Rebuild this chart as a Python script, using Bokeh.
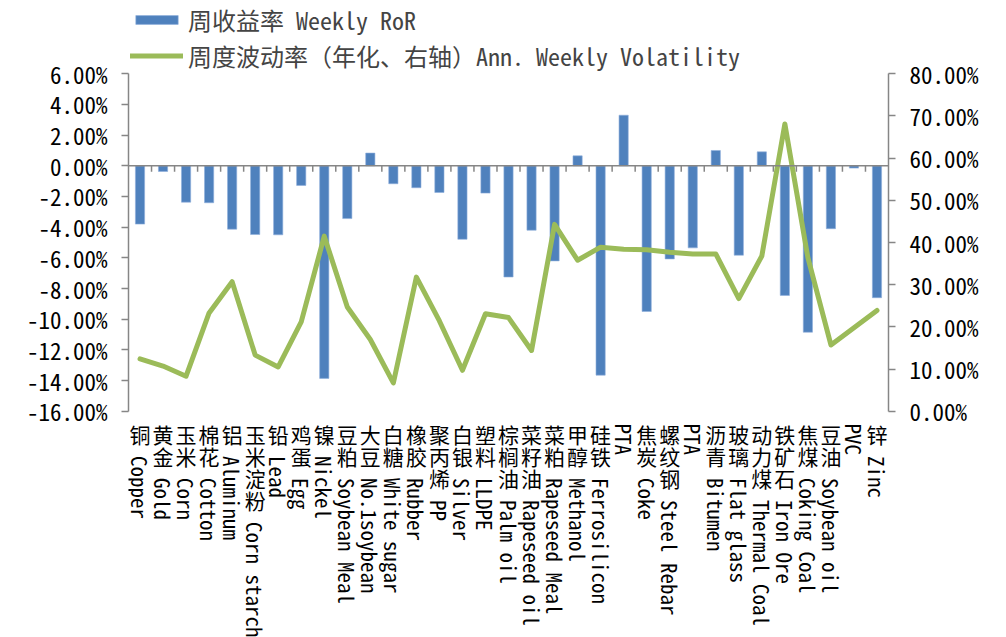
import math
from bokeh.plotting import figure
from bokeh.models import (Range1d, LinearAxis, FixedTicker, Span, ColumnDataSource,
                          Legend, LegendItem)
from bokeh.core.properties import value
from bokeh.embed import file_html
from bokeh.resources import INLINE

# ---------------- data ----------------
cn_names = ["铜", "黄金", "玉米", "棉花", "铝", "玉米淀粉", "铅", "鸡蛋", "镍", "豆粕", "大豆",
            "白糖", "橡胶", "聚丙烯", "白银", "塑料", "棕榈油", "菜籽油", "菜粕", "甲醇", "硅铁",
            "", "焦炭", "螺纹钢", "", "沥青", "玻璃", "动力煤", "铁矿石", "焦煤", "豆油", "", "锌"]
en_names = ["Copper", "Gold", "Corn", "Cotton", "Aluminum", "Corn starch", "Lead", "Egg",
            "Nickel", "Soybean Meal", "No.1soybean", "White sugar", "Rubber", "PP", "Silver",
            "LLDPE", "Palm oil", "Rapeseed oil", "Rapeseed Meal", "Methanol", "Ferrosilicon",
            "PTA", "Coke", "Steel Rebar", "PTA", "Bitumen", "Flat glass", "Thermal Coal",
            "Iron Ore", "Coking Coal", "Soybean oil", "PVC", "Zinc"]
weekly_ror = [-3.80, -0.37, -2.37, -2.41, -4.13, -4.48, -4.50, -1.28, -13.86, -3.44, 0.83,
              -1.17, -1.43, -1.74, -4.79, -1.78, -7.25, -4.20, -6.20, 0.65, -13.65, 3.30,
              -9.50, -6.07, -5.35, 1.00, -5.83, 0.91, -8.45, -10.85, -4.10, -0.15, -8.60]
ann_vol = [12.4, 10.7, 8.3, 23.3, 30.7, 13.3, 10.5, 21.2, 41.5, 24.7, 17.0, 6.7, 31.8, 21.4,
           9.7, 23.1, 22.2, 14.4, 44.3, 35.8, 38.9, 38.4, 38.3, 37.7, 37.3, 37.3, 26.7, 36.8,
           68.1, 36.4, 15.7, 19.8, 23.9]
left_ticks = [-16, -14, -12, -10, -8, -6, -4, -2, 0, 2, 4, 6]
right_ticks = [0, 10, 20, 30, 40, 50, 60, 70, 80]
legend_labels = ["周收益率 Weekly RoR", "周度波动率（年化、右轴）Ann. Weekly Volatility"]

# ---------------- layout constants ----------------
FONT = "Noto Sans Mono CJK SC, Noto Sans CJK SC"
FIG_H = 637
TOP_AX, BOT_AX = 73.3, 410.7       # figure px of top/bottom of axes
L_MIN, L_MAX = left_ticks[0], left_ticks[-1]
R_MIN, R_MAX = right_ticks[0], right_ticks[-1]
ppu_l = (BOT_AX - TOP_AX) / (L_MAX - L_MIN)
ppu_r = (BOT_AX - TOP_AX) / (R_MAX - R_MIN)
y_rng = Range1d(L_MIN - (FIG_H - BOT_AX) / ppu_l, L_MAX + TOP_AX / ppu_l)
r_rng = Range1d(R_MIN - (FIG_H - BOT_AX) / ppu_r, R_MAX + TOP_AX / ppu_r)

def fig_px_to_left(py):
    return L_MAX - (py - TOP_AX) / ppu_l

n = len(en_names)
xs = list(range(n))
GRAY = "#868686"

p = figure(frame_width=760, frame_height=FIG_H, min_border_left=128, min_border_right=110,
           min_border_top=0, min_border_bottom=0, x_range=Range1d(-0.5, n - 0.5),
           y_range=y_rng, output_backend="svg", toolbar_location=None,
           x_axis_location=None, outline_line_color=None)
p.extra_y_ranges = {"vol": r_rng}
p.grid.visible = False

# left axis
ya = p.yaxis[0]
ya.bounds = (L_MIN, L_MAX)
ya.ticker = FixedTicker(ticks=left_ticks)
ya.major_label_overrides = {t: f"{t:.2f}%" for t in left_ticks}
ra = LinearAxis(y_range_name="vol", bounds=(R_MIN, R_MAX),
                ticker=FixedTicker(ticks=right_ticks))
ra.major_label_overrides = {t: f"{t:.2f}%" for t in right_ticks}
p.add_layout(ra, "right")
for ax in (ya, ra):
    ax.axis_line_color = GRAY
    ax.axis_line_width = 1.5
    ax.major_tick_line_color = GRAY
    ax.major_tick_line_width = 1.5
    ax.major_tick_out = 7
    ax.major_tick_in = 0
    ax.minor_tick_line_color = None
    ax.major_label_standoff = 14
    ax.major_label_text_font = FONT
    ax.major_label_text_font_size = "23px"
    ax.major_label_text_color = "black"

# bars
src = ColumnDataSource(dict(x=xs, ror=weekly_ror, vol=ann_vol))
bars = p.vbar(x="x", top="ror", bottom=0, width=0.4, source=src,
              fill_color="#4F81BD", line_color="#8EAEDB", line_width=0.6)

# zero axis line with boundary ticks
p.add_layout(Span(location=0, dimension="width", line_color=GRAY, line_width=1.5))
bnd = [i + 0.5 for i in range(n - 1)]
p.segment(x0=bnd, x1=bnd, y0=[0] * len(bnd), y1=[-6 / ppu_l] * len(bnd),
          line_color=GRAY, line_width=1.5)

# volatility line
line = p.line(x="x", y="vol", y_range_name="vol", source=src, line_color="#9BBB59",
              line_width=5, line_join="round", line_cap="round")

# category labels: stacked CJK + rotated Latin
CH_TOP = 433.5
STEP = 22
cx, cy, ct = [], [], []
ex, ey, et = [], [], []
for i, (c, e) in enumerate(zip(cn_names, en_names)):
    for k, ch in enumerate(c):
        cx.append(i); cy.append(fig_px_to_left(CH_TOP + STEP * k)); ct.append(ch)
    start = (CH_TOP + STEP * len(c)) if c else 423
    ex.append(i); ey.append(fig_px_to_left(start)); et.append(e)
p.text(x=cx, y=cy, text=ct, text_font=value(FONT), text_font_size="21px",
       text_align="center", text_baseline="middle", text_color="black")
p.text(x=ex, y=ey, text=et, angle=-math.pi / 2, text_font=value(FONT),
       text_font_size="21px", text_align="left", text_baseline="middle",
       text_color="black")

legend = Legend(items=[LegendItem(label=legend_labels[0], renderers=[bars]),
                       LegendItem(label=legend_labels[1], renderers=[line])],
                location="top_left", margin=2, padding=0, glyph_width=53,
                glyph_height=11, label_standoff=5, spacing=1,
                label_text_font=FONT, label_text_font_size="24px",
                background_fill_alpha=0, border_line_alpha=0)
p.add_layout(legend)

open("out.html", "w").write(file_html(p, INLINE))
